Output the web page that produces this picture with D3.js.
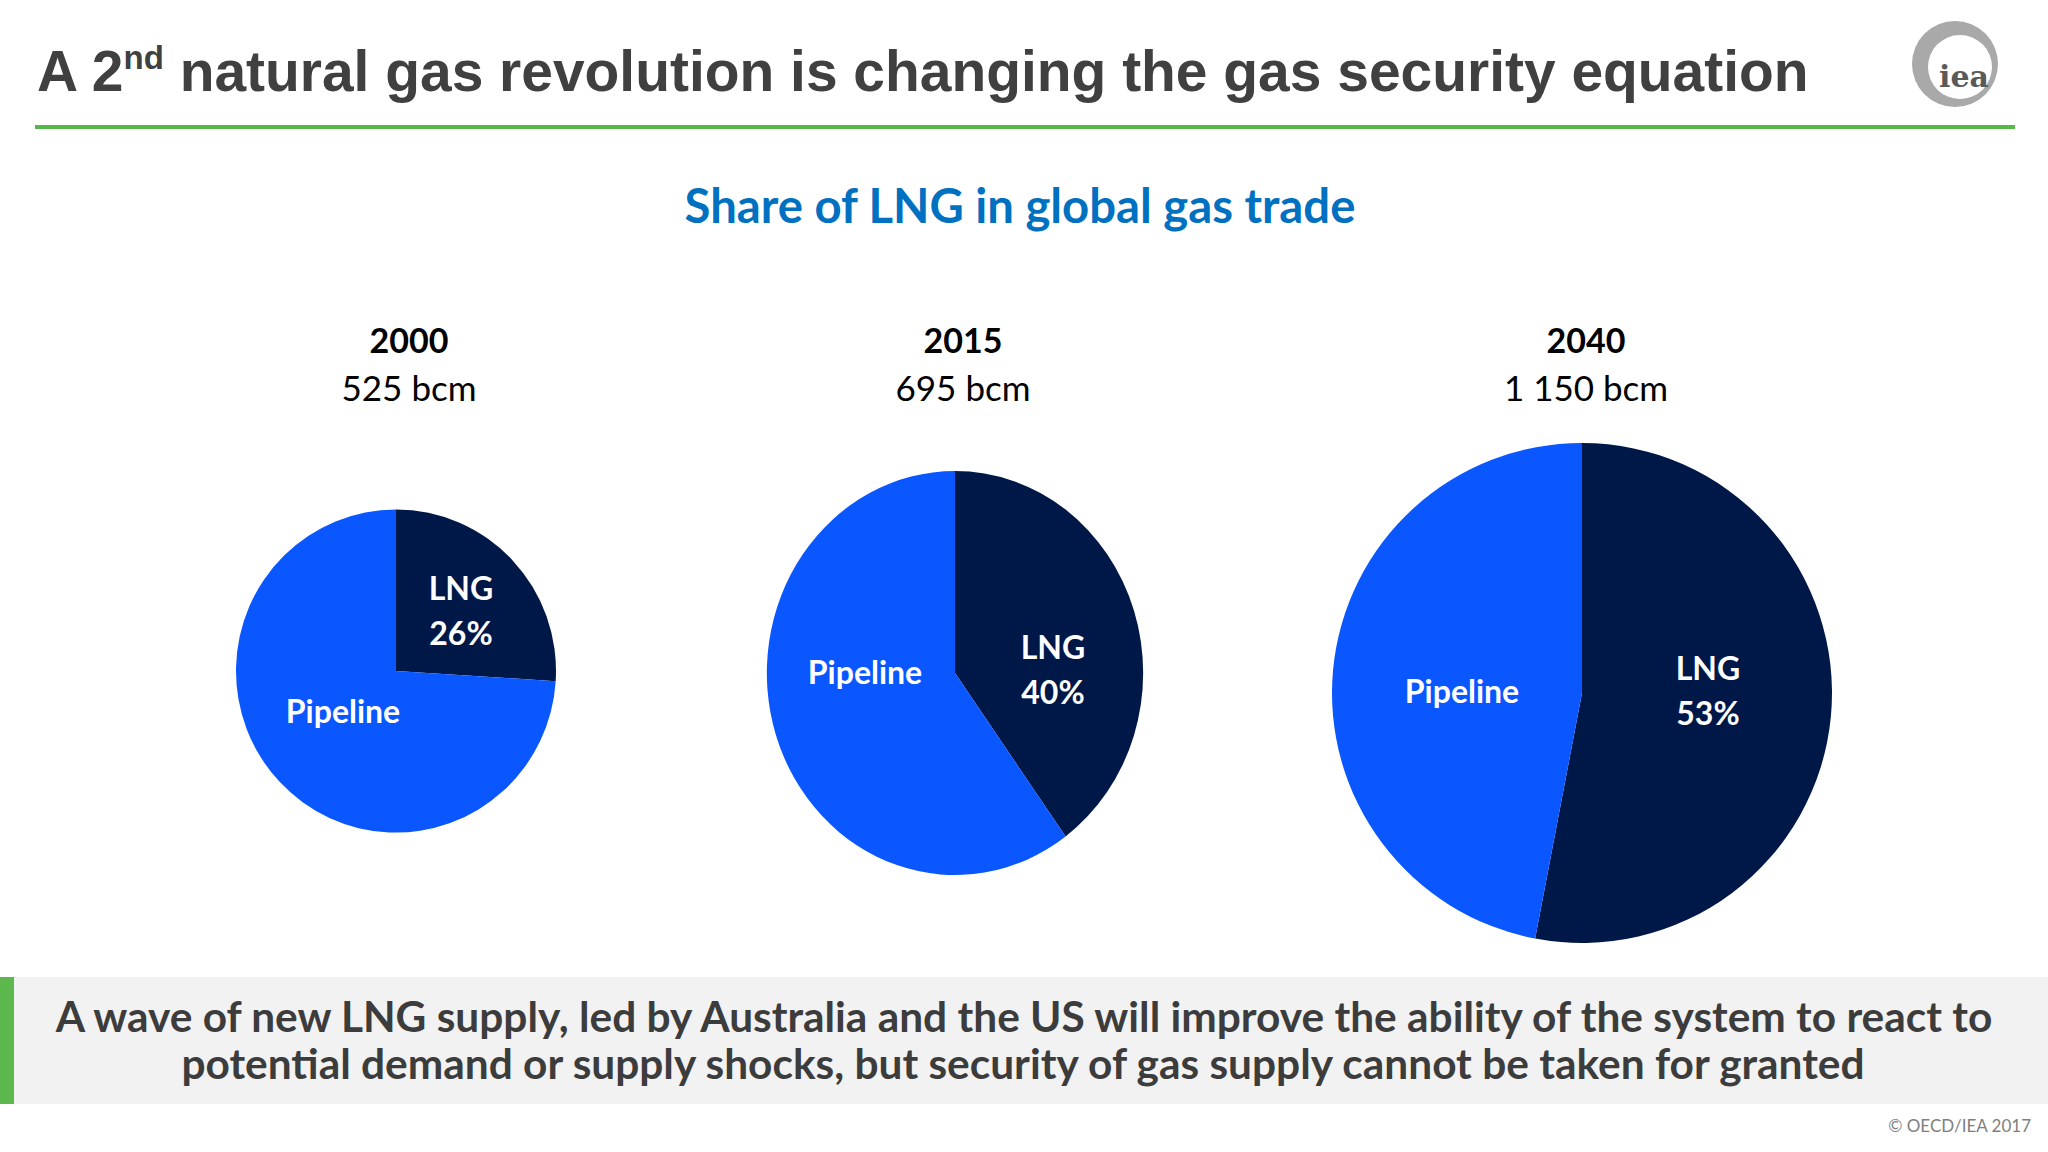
<!DOCTYPE html>
<html>
<head>
<meta charset="utf-8">
<script src="https://cdn.jsdelivr.net/npm/d3@7"></script>
<style>
  html, body { margin: 0; padding: 0; background: #fff; }
  svg { display: block; }
</style>
</head>
<body>
<svg id="chart"></svg>
<script>
// Chart data
const years = ["2000", "2015", "2040"];
const tradeBcm = [525, 695, 1150];
const tradeLabels = ["525 bcm", "695 bcm", "1 150 bcm"];
const lngShare = [26, 40, 53];
const pipelineShare = [74, 60, 47];
const segments = ["LNG", "Pipeline"];

const width = 2048;
const height = 1152;

const svg = d3.select("#chart")
    .attr("width", width)
    .attr("height", height);

// scales
const colour = d3.scaleOrdinal().domain(segments).range(["#001848", "#0A57FF"]);
const cx = d3.scaleOrdinal().domain(years).range([396, 955, 1582]);
const cy = d3.scaleOrdinal().domain(years).range([671, 673, 693]);
const headX = d3.scaleOrdinal().domain(years).range([409, 963, 1586]);
const radius = d3.scaleLinear().domain([525, 1150]).range([160, 250]);
// the middle pie is a little oval in the original slide
const squash = d3.scaleOrdinal().domain(years).range([[1, 1.01], [1.02, 1.095], [1, 1]]);

// label offsets from pie centre (LNG = first line baseline, Pipeline = baseline)
const labelOffset = d3.scaleOrdinal().domain(years).range([
    { LNG: [65, -71], Pipeline: [-53, 52] },
    { LNG: [98, -14], Pipeline: [-90, 11] },
    { LNG: [126, -13], Pipeline: [-120, 10] }
]);

function fitWidth(text, target) {
    const w = text.node().getComputedTextLength();
    const fs = parseFloat(text.style("font-size"));
    text.style("font-size", (fs * target / w) + "px");
    return fs * target / w;
}

// ---- header ----
const title = svg.append("text")
    .attr("x", 37)
    .attr("y", 91)
    .attr("fill", "#404040")
    .style("font-family", "'Liberation Sans', Arial, sans-serif")
    .style("font-weight", "bold")
    .style("font-size", "57px");
title.append("tspan").text("A 2");
const sup = title.append("tspan").text("nd").style("font-size", "0.58em");
const rest = title.append("tspan").text(" natural gas revolution is changing the gas security equation");
const tfs = fitWidth(title, 1772);
sup.attr("dy", -0.38 * tfs);
rest.attr("dy", 0.38 * tfs);

svg.append("rect")
    .attr("x", 35).attr("y", 125)
    .attr("width", 1980).attr("height", 4)
    .attr("fill", "#57B84A");

// iea logo
const ring = d3.path();
ring.moveTo(1955 + 43, 64);
ring.arc(1955, 64, 43, 0, 2 * Math.PI);
ring.moveTo(1960 + 32, 67);
ring.arc(1960, 67, 32, 0, 2 * Math.PI);
svg.append("path")
    .attr("d", ring.toString())
    .attr("fill", "#A9A9A9")
    .attr("fill-rule", "evenodd");
svg.append("text")
    .attr("x", 1964).attr("y", 87)
    .attr("text-anchor", "middle")
    .attr("fill", "#5A5A5A")
    .style("font-family", "'DejaVu Serif', serif")
    .style("font-weight", "bold")
    .style("font-size", "30px")
    .text("iea");

// ---- chart title ----
const sub = svg.append("text")
    .attr("x", 1020).attr("y", 223)
    .attr("text-anchor", "middle")
    .attr("fill", "#0070C0")
    .style("font-family", "Lato, sans-serif")
    .style("font-weight", "bold")
    .style("font-size", "46px")
    .text("Share of LNG in global gas trade");
fitWidth(sub, 671);

// ---- pies ----
const pie = d3.pie().sort(null).value(d => d.value);
const arc = d3.arc().innerRadius(0);

years.forEach((yr, i) => {
    svg.append("text")
        .attr("x", headX(yr)).attr("y", 353)
        .attr("text-anchor", "middle")
        .attr("fill", "#000")
        .style("font-family", "Lato, sans-serif")
        .style("font-weight", "bold")
        .style("font-size", "34px")
        .text(yr);
    svg.append("text")
        .attr("x", headX(yr)).attr("y", 401)
        .attr("text-anchor", "middle")
        .attr("fill", "#000")
        .style("font-family", "Lato, sans-serif")
        .style("font-size", "35px")
        .text(tradeLabels[i]);

    const slices = [
        { key: "LNG", value: lngShare[i] },
        { key: "Pipeline", value: pipelineShare[i] }
    ];
    const g = svg.append("g")
        .attr("transform", `translate(${cx(yr)},${cy(yr)})`);
    const s = squash(yr);
    g.append("g")
        .attr("transform", `scale(${s[0]},${s[1]})`)
        .selectAll("path")
        .data(pie(slices))
        .join("path")
        .attr("d", d => arc.outerRadius(radius(tradeBcm[i]))(d))
        .attr("fill", d => colour(d.data.key));

    const off = labelOffset(yr);
    const lab = g.append("g")
        .attr("fill", "#fff")
        .attr("text-anchor", "middle")
        .style("font-family", "Lato, sans-serif")
        .style("font-weight", "bold")
        .style("font-size", "32px");
    lab.append("text").attr("x", off.LNG[0]).attr("y", off.LNG[1]).text("LNG");
    lab.append("text").attr("x", off.LNG[0]).attr("y", off.LNG[1] + 45).text(lngShare[i] + "%");
    lab.append("text").attr("x", off.Pipeline[0]).attr("y", off.Pipeline[1]).text("Pipeline");
});

// ---- message box ----
svg.append("rect")
    .attr("x", 0).attr("y", 977)
    .attr("width", width).attr("height", 127)
    .attr("fill", "#F2F2F3");
svg.append("rect")
    .attr("x", 0).attr("y", 977)
    .attr("width", 14).attr("height", 127)
    .attr("fill", "#5CB84C");

const msg1 = svg.append("text")
    .attr("x", 1024).attr("y", 1032)
    .attr("text-anchor", "middle")
    .attr("fill", "#3C3C3C")
    .style("font-family", "Lato, sans-serif")
    .style("font-weight", "bold")
    .style("font-size", "40px")
    .text("A wave of new LNG supply, led by Australia and the US will improve the ability of the system to react to");
const mfs = fitWidth(msg1, 1937);
svg.append("text")
    .attr("x", 1023).attr("y", 1079)
    .attr("text-anchor", "middle")
    .attr("fill", "#3C3C3C")
    .style("font-family", "Lato, sans-serif")
    .style("font-weight", "bold")
    .style("font-size", mfs + "px")
    .text("potential demand or supply shocks, but security of gas supply cannot be taken for granted");

svg.append("text")
    .attr("x", 2031).attr("y", 1132)
    .attr("text-anchor", "end")
    .attr("fill", "#7F7F7F")
    .style("font-family", "Lato, sans-serif")
    .style("font-size", "17px")
    .text("© OECD/IEA 2017");
</script>
</body>
</html>
